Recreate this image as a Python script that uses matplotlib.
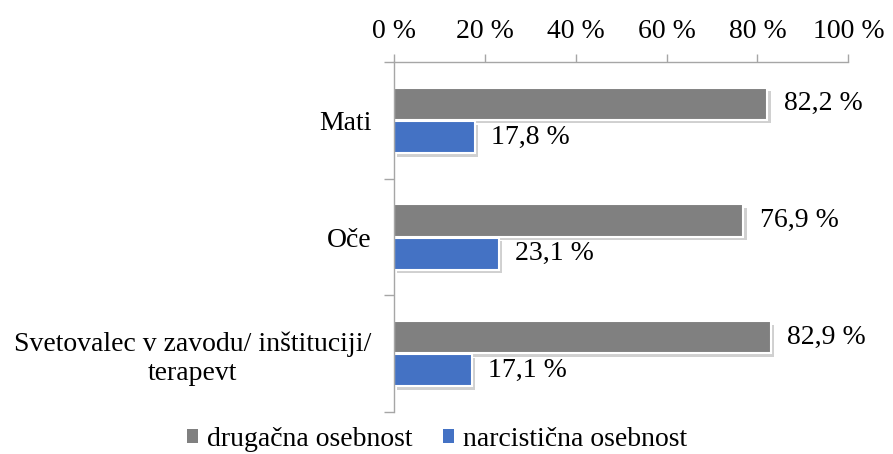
import matplotlib
matplotlib.use("Agg")
import matplotlib.pyplot as plt
import matplotlib.patheffects as pe
from matplotlib.patches import Patch
import numpy as np

categories = ["Mati", "Oče", "Svetovalec v zavodu/ inštituciji/\nterapevt"]
drugacna = [82.2, 76.9, 82.9]
narcisticna = [17.8, 23.1, 17.1]
ticks = [0, 20, 40, 60, 80, 100]
colors = ["#808080", "#4472C4"]
series_names = ["drugačna osebnost", "narcistična osebnost"]

plt.rcParams["font.family"] = ["Liberation Serif", "DejaVu Serif"]
fs = 20

fig = plt.figure(figsize=(8.93, 4.54), dpi=100)
ax = fig.add_axes([0.441, 0.0925, 0.509, 0.7705])

y = np.arange(len(categories))
h = 0.275
shadow = [pe.SimplePatchShadow(offset=(2.5, -2.5), alpha=0.25, shadow_rgbFace="#444444"), pe.Normal()]

b1 = ax.barh(y - h / 2 - 0.005, drugacna, height=h, color=colors[0], edgecolor="white",
             linewidth=1.5, path_effects=shadow)
b2 = ax.barh(y + h / 2 + 0.005, narcisticna, height=h, color=colors[1], edgecolor="white",
             linewidth=1.5, path_effects=shadow)

for bars, vals in ((b1, drugacna), (b2, narcisticna)):
    for bar, v in zip(bars, vals):
        ax.text(v + 3.6, bar.get_y() + bar.get_height() / 2, f"{v:.1f} %".replace(".", ","),
                va="center", ha="left", fontsize=fs)

ax.set_xlim(0, 100)
ax.set_ylim(len(categories) - 0.5, -0.5)
ax.xaxis.tick_top()
ax.set_xticks(ticks)
ax.set_xticklabels([f"{t} %" for t in ticks], fontsize=fs)
ax.tick_params(axis="x", direction="out", length=6, width=1, color="#A6A6A6", pad=7)

ax.set_yticks(y)
ax.set_yticklabels(categories, fontsize=fs, multialignment="center")
ax.set_yticks(np.arange(len(categories) + 1) - 0.5, minor=True)
ax.tick_params(axis="y", which="major", length=0, pad=16)
ax.tick_params(axis="y", which="minor", direction="out", length=7, width=1, color="#A6A6A6")

for s in ("right", "bottom"):
    ax.spines[s].set_visible(False)
for s in ("left", "top"):
    ax.spines[s].set_color("#A6A6A6")
    ax.spines[s].set_linewidth(1)

handles = [Patch(facecolor=c, edgecolor="none", label=n) for c, n in zip(colors, series_names)]
fig.legend(handles=handles, loc="lower center", bbox_to_anchor=(0.489, -0.05), ncol=2,
           frameon=False, fontsize=fs, handlelength=0.42, handleheight=0.42,
           handletextpad=0.3, columnspacing=1.1)

fig.savefig("out.png", dpi=100)
